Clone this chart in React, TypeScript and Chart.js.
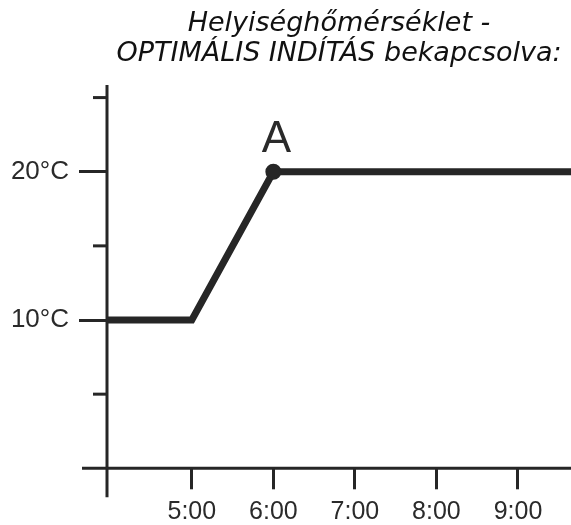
import React, { useEffect, useRef } from "react";
import { Chart, registerables } from "chart.js";

Chart.register(...registerables);

// ---- data ----
const TITLE_LINES = ["Helyiséghőmérséklet -", "OPTIMÁLIS INDÍTÁS bekapcsolva:"];
const TIME_H = [3.96, 5, 6, 9.65];
const TEMP_C = [10, 10, 20, 20];
const X_MIN = 3.96;
const X_MAX = 9.65;
const Y_MIN = 0;
const Y_MAX = 25.85;
const X_TICKS = [5, 6, 7, 8, 9];
const Y_TICKS = [0, 5, 10, 15, 20, 25];
const Y_LABELED = [10, 20];
const MARK_INDEX = 2;
const MARK_LABEL = "A";

const INK = "#262626";
const TEXT = "#2a2a2a";
const SANS = "'Liberation Sans', Arial, Helvetica, sans-serif";

const axesPlugin = {
  id: "customAxes",
  afterDatasetsDraw(chart: any) {
    const { ctx, chartArea, scales } = chart;
    const y = scales.y;
    ctx.save();
    ctx.strokeStyle = INK;
    ctx.lineWidth = 3;
    ctx.lineCap = "butt";
    // y axis (extends below x axis)
    ctx.beginPath();
    ctx.moveTo(chartArea.left, chartArea.top);
    ctx.lineTo(chartArea.left, chartArea.bottom + 29);
    ctx.stroke();
    // x axis (extends left of y axis)
    ctx.beginPath();
    ctx.moveTo(chartArea.left - 25, chartArea.bottom);
    ctx.lineTo(chartArea.right, chartArea.bottom);
    ctx.stroke();
    // short unlabeled y ticks
    Y_TICKS.forEach((v) => {
      if (v === 0 || Y_LABELED.includes(v)) return;
      const py = y.getPixelForValue(v);
      ctx.beginPath();
      ctx.moveTo(chartArea.left - 14, py);
      ctx.lineTo(chartArea.left, py);
      ctx.stroke();
    });
    // mark label
    const meta = chart.getDatasetMeta(0);
    const pt = meta.data[MARK_INDEX];
    if (pt) {
      ctx.fillStyle = TEXT;
      ctx.font = `44px ${SANS}`;
      ctx.textAlign = "center";
      ctx.textBaseline = "alphabetic";
      ctx.fillText(MARK_LABEL, pt.x + 3, pt.y - 19.5);
    }
    ctx.restore();
  },
};

export default function App() {
  const ref = useRef<HTMLCanvasElement>(null);

  useEffect(() => {
    if (!ref.current) return;
    const chart = new Chart(ref.current, {
      type: "line",
      data: {
        datasets: [
          {
            data: TIME_H.map((x, i) => ({ x, y: TEMP_C[i] })),
            borderColor: INK,
            backgroundColor: INK,
            borderWidth: 7,
            borderJoinStyle: "miter",
            borderCapStyle: "butt",
            tension: 0,
            pointRadius: (c: any) => (c.dataIndex === MARK_INDEX ? 7 : 0),
            pointBorderWidth: 2,
            pointBorderColor: INK,
            pointBackgroundColor: INK,
            pointHoverRadius: 0,
          },
        ],
      },
      options: {
        animation: false,
        responsive: false,
        devicePixelRatio: 1,
        events: [],
        layout: { padding: 0 },
        plugins: {
          legend: { display: false },
          tooltip: { enabled: false },
          title: {
            display: true,
            text: TITLE_LINES,
            fullSize: false,
            color: "#111",
            font: { family: "'DejaVu Sans', Verdana, sans-serif", style: "italic", size: 27, weight: "normal", lineHeight: 1.12 },
            padding: { top: 9, bottom: 15.5 },
          },
        },
        scales: {
          x: {
            type: "linear",
            min: X_MIN,
            max: X_MAX,
            afterBuildTicks: (s: any) => {
              s.ticks = X_TICKS.map((value) => ({ value }));
            },
            afterFit: (s: any) => {
              s.height = 56.7;
            },
            border: { display: false },
            grid: {
              display: true,
              drawOnChartArea: false,
              drawTicks: true,
              tickLength: 21,
              tickWidth: 3,
              tickColor: INK,
            },
            ticks: {
              autoSkip: false,
              maxRotation: 0,
              padding: 8,
              color: TEXT,
              font: { family: SANS, size: 25 },
              callback: (v: any) => `${v}:00`,
            },
          },
          y: {
            type: "linear",
            min: Y_MIN,
            max: Y_MAX,
            afterBuildTicks: (s: any) => {
              s.ticks = Y_TICKS.map((value) => ({ value }));
            },
            afterFit: (s: any) => {
              s.width = 107;
            },
            border: { display: false },
            grid: {
              display: true,
              drawOnChartArea: false,
              drawTicks: true,
              tickLength: 28,
              tickWidth: 3,
              tickColor: (c: any) =>
                c.tick && Y_LABELED.includes(c.tick.value) ? INK : "rgba(0,0,0,0)",
            },
            ticks: {
              autoSkip: false,
              padding: 10,
              color: TEXT,
              font: { family: SANS, size: 26 },
              callback: (v: any) => (Y_LABELED.includes(v) ? `${v}°C` : ""),
            },
          },
        },
      },
      plugins: [axesPlugin],
    } as any);
    return () => chart.destroy();
  }, []);

  return (
    <div style={{ position: "absolute", left: 0, top: 0, width: 571, height: 525, background: "#fff" }}>
      <canvas ref={ref} width={571} height={525} style={{ display: "block" }} />
    </div>
  );
}
